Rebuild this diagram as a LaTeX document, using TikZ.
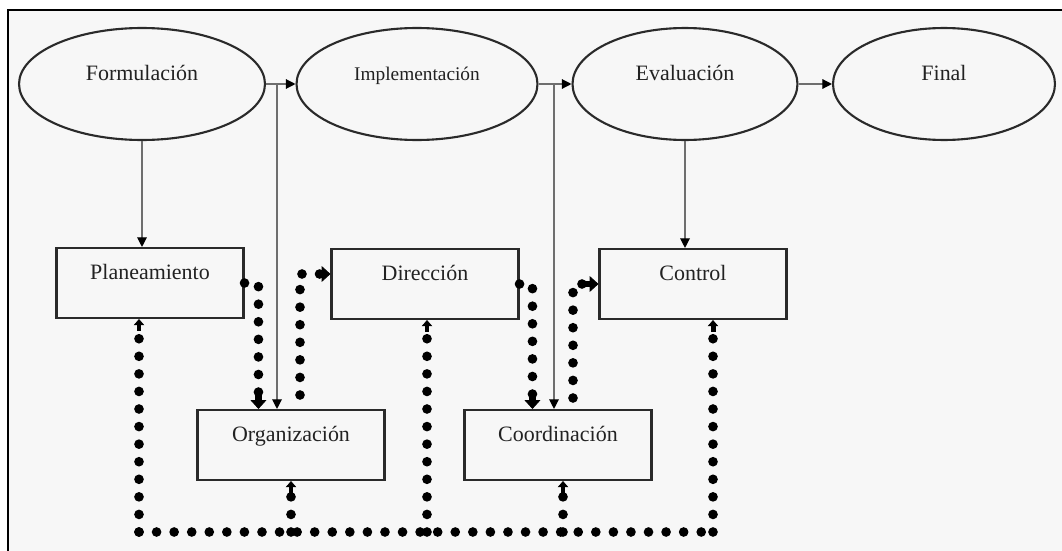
\documentclass[tikz,border=0pt]{standalone}
\usepackage{fontspec}
\setmainfont{Liberation Serif}
\usepackage{tikz}
\usetikzlibrary{arrows.meta, positioning, shapes, calc}
\definecolor{panelgray}{HTML}{F7F7F7}
\definecolor{edgegray}{HTML}{2A2A2A}
\definecolor{linkgray}{HTML}{6E6E6E}
\definecolor{inkgray}{HTML}{222222}

\begin{document}
\begin{tikzpicture}[x=0.02cm, y=-0.02cm,
    phase/.style={ellipse, draw=edgegray, line width=1.2pt, minimum height=2.24cm,
      inner sep=0pt, text height=0.3cm, text depth=0.46cm, text=inkgray,
      font=\fontsize{12.5}{14}\selectfont},
    task/.style={rectangle, draw=edgegray, line width=1.2pt, minimum width=3.74cm,
      minimum height=1.4cm, inner xsep=0pt, inner ysep=0pt, text height=0.62cm,
      text depth=0.78cm, text=inkgray, font=\fontsize{12.5}{14}\selectfont},
    flow/.style={draw=linkgray, line width=0.7pt,
      -{Triangle[length=5.5pt, width=5.5pt, color=black]}},
    dotline/.style={line width=5.5pt, line cap=round, dash pattern=on 0pt off 10pt},
    bigtip/.style={-{Rectangle[length=3pt, width=3.5pt, line width=0.4pt]
      Triangle[length=5pt, width=9pt, line width=0.4pt]}},
    smalltip/.style={-{Rectangle[length=3pt, width=2.5pt, line width=0.4pt]
      Triangle[length=3.5pt, width=6pt, line width=0.4pt]}}]
        \useasboundingbox (0,0) rectangle (1062,551);
        % Panel
        \fill[panelgray] (8,10) rectangle (1062,551);
        \draw[line width=1.7pt] (1062,10) -- (8,10) -- (8,551);
        % Phases
        \node[phase, minimum width=4.92cm] (form) at (142,84) {Formulación};
        \node[phase, minimum width=4.82cm, font=\fontsize{11}{13}\selectfont] (impl) at (417,84) {Implementación};
        \node[phase, minimum width=4.5cm] (eval) at (685,84) {Evaluación};
        \node[phase, minimum width=4.44cm] (final) at (944,84) {Final};
        % Management functions
        \node[task] (plan) at (150,283) {Planeamiento};
        \node[task] (dir) at (425,284) {Dirección};
        \node[task] (ctrl) at (693,284) {Control};
        \node[task] (org) at (291,445) {Organización};
        \node[task] (coord) at (558,445) {Coordinación};
        % Solid links
        \draw[flow] (form) -- (impl);
        \draw[flow] (impl) -- (eval);
        \draw[flow] (eval) -- (final);
        \draw[flow] (form) -- (form |- plan.north);
        \draw[flow] (eval) -- (eval |- ctrl.north);
        \coordinate (split1) at (277,84);
        \coordinate (split2) at (554,84);
        \draw[flow] (split1) -- (split1 |- org.north);
        \draw[flow] (split2) -- (split2 |- coord.north);
        % Dotted links
        \draw[dotline, bigtip] (plan.east) -| ($(org.north west)+(62,0)$);
        \coordinate (up1) at (300,395);
        \draw[dotline, bigtip] (up1) |- ($(dir.west)+(0,-10)$);
        \draw[dotline, bigtip] (dir.east) -| ($(coord.north west)+(69,0)$);
        \coordinate (up2) at (573,398);
        \draw[dotline, bigtip] (up2) |- (ctrl.west);
        % Feedback
        \coordinate (fbl) at (139,532);
        \coordinate (fbr) at (713,532);
        \draw[dotline] (fbl) -- (fbr);
        \foreach \tsk/\dx in {plan/-11, org/0, dir/2, coord/5, ctrl/20} {
          \coordinate (r\tsk) at ($(\tsk.south)+(\dx,0)$);
          \draw[dotline, smalltip] (r\tsk |- fbl) -- (r\tsk);
        }
\end{tikzpicture}
\end{document}
